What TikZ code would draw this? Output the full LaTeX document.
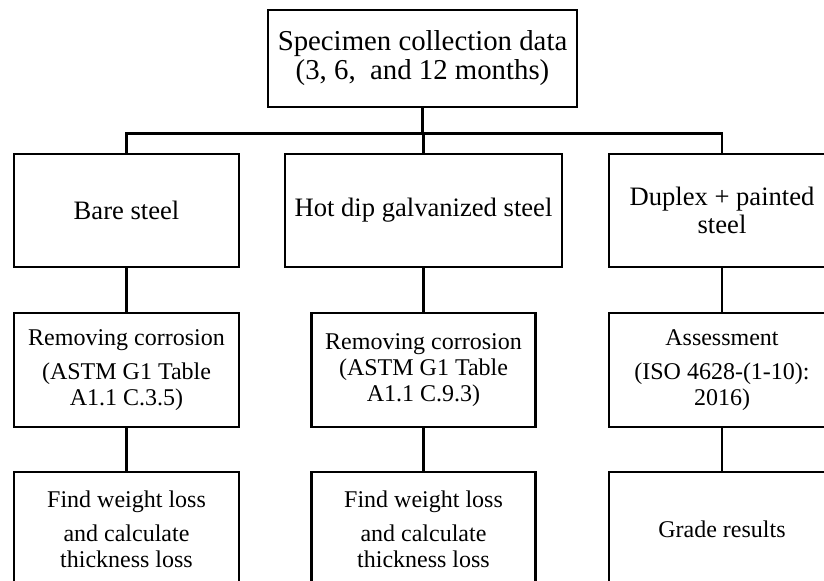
\documentclass[tikz,border=0pt]{standalone}
\usepackage{fontspec}
\setmainfont{Liberation Serif}
\usetikzlibrary{positioning}

\begin{document}
\begin{tikzpicture}[
  box/.style={draw, line width=1.3pt, align=center, inner sep=2pt, minimum height=57pt},
  toptext/.style={font=\fontsize{14.4}{14.5}\selectfont},
  midtext/.style={font=\fontsize{13.3}{14}\selectfont, minimum height=56.5pt},
  lowtext/.style={font=\fontsize{12}{13}\selectfont},
  link/.style={line width=1.3pt},
]
  \path[use as bounding box, clip] (0,0) rectangle (412pt,290.5pt);

  \node[box, toptext, minimum width=154.5pt, minimum height=48.5pt] (spec) at (211.25pt,261.25pt) {Specimen collection data\\(3, 6,\ \ and 12 months)};

  % steel types
  \node[box, midtext, minimum width=112.5pt] (bare) at (63.25pt,185.25pt) {Bare steel};
  \node[box, midtext, minimum width=138.5pt] (hdg) at (211.75pt,185.25pt) {Hot dip galvanized steel};
  \node[box, midtext, minimum width=113pt] (duplex) at (361pt,185.25pt) {Duplex + painted\\steel};

  % treatment
  \node[box, lowtext, minimum width=112.5pt, below=21.7pt of bare] (bareclean) {Removing corrosion\\[4pt](ASTM G1 Table\\A1.1 C.3.5)};
  \node[box, lowtext, minimum width=112pt, below=21.7pt of hdg] (hdgclean) {Removing corrosion\\(ASTM G1 Table\\A1.1 C.9.3)};
  \node[box, lowtext, minimum width=113pt, below=21.7pt of duplex] (assess) {Assessment\\[4pt](ISO 4628-(1-10):\\2016)};

  % results
  \node[box, lowtext, minimum width=112.5pt, below=21.2pt of bareclean] (bareloss) {Find weight loss\\[4pt]and calculate\\thickness loss};
  \node[box, lowtext, minimum width=112pt, below=21.2pt of hdgclean] (hdgloss) {Find weight loss\\[4pt]and calculate\\thickness loss};
  \node[box, lowtext, minimum width=113pt, below=21.2pt of assess] (grade) {Grade results};

  \coordinate (split) at ([yshift=-12.5pt]spec.south);
  \draw[link] (spec) -- (split);
  \draw[link] (bare.north) |- (split) -| (duplex.north);
  \draw[link] (hdg.north |- split) -- (hdg.north);
  \draw[link] (bare) -- (bareclean);
  \draw[link] (hdg) -- (hdgclean);
  \draw[link] (duplex) -- (assess);
  \draw[link] (bareclean) -- (bareloss);
  \draw[link] (hdgclean) -- (hdgloss);
  \draw[link] (assess) -- (grade);
\end{tikzpicture}
\end{document}
